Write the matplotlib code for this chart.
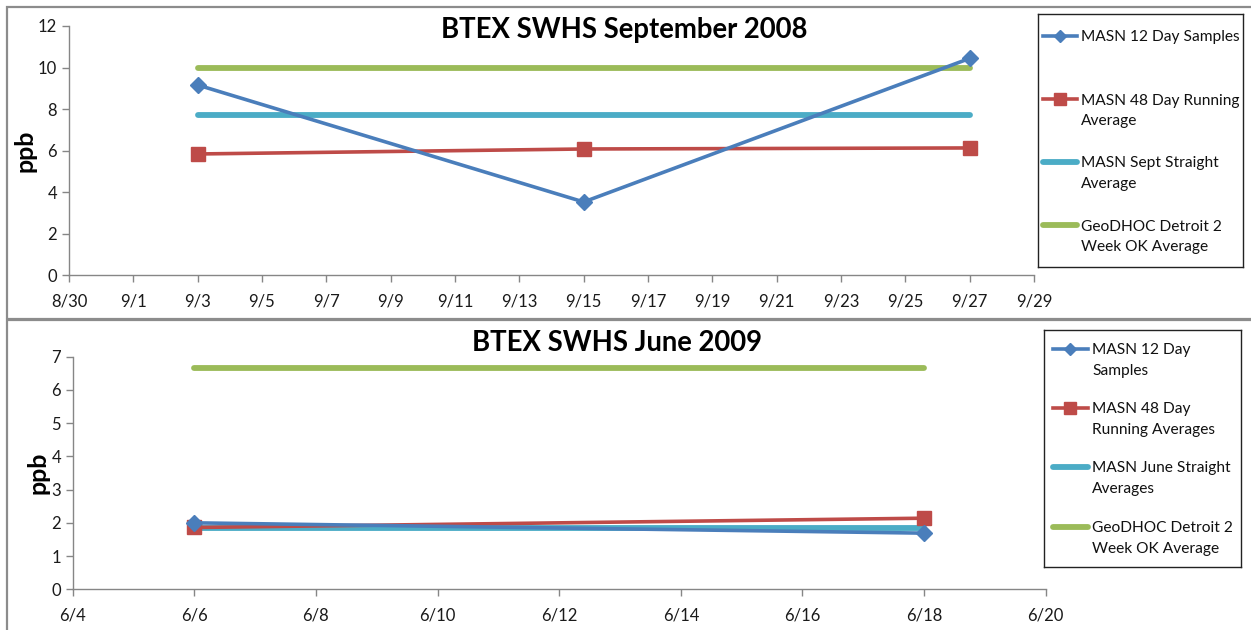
import datetime as dt
import matplotlib
matplotlib.use("Agg")
import matplotlib.pyplot as plt
from matplotlib.lines import Line2D
from matplotlib.patches import Rectangle

plt.rcParams["font.family"] = ["Lato", "DejaVu Sans"]

# ---- September 2008 ----
sep_sample_dates = ["2008-09-03", "2008-09-15", "2008-09-27"]
sep_12day = [9.16, 3.53, 10.44]
sep_48day = [5.84, 6.08, 6.13]
sep_straight = [7.71, 7.71]
sep_geodhoc = [9.98, 9.98]
sep_line_dates = ["2008-09-03", "2008-09-27"]
sep_labels = ["MASN 12 Day Samples", "MASN 48 Day Running\nAverage",
              "MASN Sept Straight\nAverage", "GeoDHOC Detroit 2\nWeek OK Average"]
sep_xlim = ["2008-08-30", "2008-09-29"]
sep_yticks = [0, 2, 4, 6, 8, 10, 12]

# ---- June 2009 ----
jun_sample_dates = ["2009-06-06", "2009-06-18"]
jun_12day = [2.00, 1.69]
jun_48day = [1.86, 2.14]
jun_straight = [1.845, 1.845]
jun_geodhoc = [6.65, 6.65]
jun_line_dates = ["2009-06-06", "2009-06-18"]
jun_labels = ["MASN 12 Day\nSamples", "MASN 48 Day\nRunning Averages",
              "MASN June Straight\nAverages", "GeoDHOC Detroit 2\nWeek OK Average"]
jun_xlim = ["2009-06-04", "2009-06-20"]
jun_yticks = [0, 1, 2, 3, 4, 5, 6, 7]

BLUE, RED, CYAN, GREEN = "#4A7EBB", "#BE4B48", "#4BACC6", "#9BBB59"
AXIS_GRAY = "#868686"
W, H = 1251, 630


def d(s):
    return dt.datetime.strptime(s, "%Y-%m-%d")


def px_axes(fig, x0, y0, x1, y1, **kw):
    return fig.add_axes([x0 / W, 1 - y1 / H, (x1 - x0) / W, (y1 - y0) / H], **kw)


fig = plt.figure(figsize=(W / 100, H / 100), dpi=100)

# panel frames
for top, bottom in [(7, 318.5), (319.5, 640)]:
    fig.patches.append(Rectangle((7 / W, 1 - bottom / H), (W + 20) / W, (bottom - top) / H,
                                 transform=fig.transFigure, fill=False,
                                 edgecolor="#8C8C8C", linewidth=1.6, zorder=0))


def draw_panel(ax, sdates, s12, s48, straight, geo, ldates, xlim, yticks, title,
               title_xy):
    sx = [d(s) for s in sdates]
    lx = [d(s) for s in ldates]
    ax.plot(lx, geo, color=GREEN, lw=4.2, solid_capstyle="round", zorder=2)
    ax.plot(lx, straight, color=CYAN, lw=4.2, solid_capstyle="round", zorder=3)
    ax.plot(sx, s48, color=RED, lw=2.6, marker="s", ms=9.5, zorder=4)
    ax.plot(sx, s12, color=BLUE, lw=2.6, marker="D", ms=8, zorder=5)
    ax.set_xlim(d(xlim[0]), d(xlim[1]))
    ax.set_ylim(yticks[0], yticks[-1])
    ax.set_yticks(yticks)
    ticks = []
    t = d(xlim[0])
    while t <= d(xlim[1]):
        ticks.append(t)
        t += dt.timedelta(days=2)
    ax.set_xticks(ticks)
    ax.set_xticklabels([f"{t.month}/{t.day}" for t in ticks])
    for sp in ("top", "right"):
        ax.spines[sp].set_visible(False)
    for sp in ("left", "bottom"):
        ax.spines[sp].set_color(AXIS_GRAY)
        ax.spines[sp].set_linewidth(1.0)
    ax.tick_params(direction="out", length=5, width=1.0, color=AXIS_GRAY,
                   labelsize=12, labelcolor="#1a1a1a")
    ax.tick_params(axis="x", pad=8)
    ax.set_ylabel("ppb", fontsize=18, fontweight="bold", labelpad=1)
    ax.patch.set_alpha(0)
    fig.text(title_xy[0] / W, 1 - title_xy[1] / H, title, fontsize=19.8,
             fontweight="bold", ha="center", va="center")


def draw_legend(fig, box, labels, row_y, hx, tx):
    x0, y0, x1, y1 = box
    lax = px_axes(fig, x0, y0, x1, y1)
    lax.set_xlim(x0, x1)
    lax.set_ylim(y1, y0)
    lax.set_xticks([])
    lax.set_yticks([])
    for sp in lax.spines.values():
        sp.set_color("#222222")
        sp.set_linewidth(1.0)
    styles = [dict(color=BLUE, lw=2.6, marker="D", ms=6),
              dict(color=RED, lw=2.6, marker="s", ms=8),
              dict(color=CYAN, lw=4.2, solid_capstyle="round"),
              dict(color=GREEN, lw=4.2, solid_capstyle="round")]
    for lab, y, st in zip(labels, row_y, styles):
        xa, xb = x0 + hx[0], x0 + hx[1]
        lax.add_line(Line2D([xa, (xa + xb) / 2, xb], [y, y, y], markevery=[1], **st))
        lax.text(x0 + tx, y - 5.5, lab, fontsize=11.2, va="top", ha="left",
                 linespacing=1.58, color="#111111")


ax1 = px_axes(fig, 69, 26, 1034, 275.3)
draw_panel(ax1, sep_sample_dates, sep_12day, sep_48day, sep_straight, sep_geodhoc,
           sep_line_dates, sep_xlim, sep_yticks, "BTEX SWHS September 2008", (624, 30))
draw_legend(fig, (1038, 14, 1243, 267), sep_labels, [36, 99, 162, 225], (5, 39), 43)

ax2 = px_axes(fig, 72.7, 356.7, 1045.7, 589.3)
draw_panel(ax2, jun_sample_dates, jun_12day, jun_48day, jun_straight, jun_geodhoc,
           jun_line_dates, jun_xlim, jun_yticks, "BTEX SWHS June 2009", (617, 343))
draw_legend(fig, (1044, 330, 1241, 567), jun_labels, [349, 408, 467, 527], (9, 44), 48)

fig.savefig("out.png", dpi=100)
